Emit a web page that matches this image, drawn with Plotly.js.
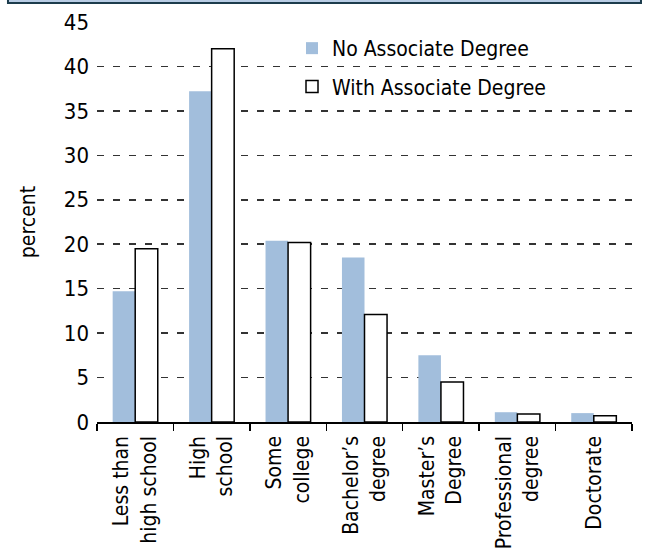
<!DOCTYPE html>
<html>
<head>
<meta charset="utf-8">
<script src="https://cdn.plot.ly/plotly-3.0.1.min.js"></script>
<style>html,body{margin:0;padding:0;background:#fff;}#chart{width:647px;height:550px;}</style>
</head>
<body>
<div id="chart"></div>
<script>
var categories = ["Less than<br>high school", "High<br>school", "Some<br>college", "Bachelor’s<br>degree", "Master’s<br>Degree", "Professional<br>degree", "Doctorate"];
var seriesNames = ["No Associate Degree", "With Associate Degree"];
var noAssociate = [14.7, 37.2, 20.4, 18.5, 7.5, 1.1, 1.0];
var withAssociate = [19.5, 42.0, 20.2, 12.1, 4.5, 0.9, 0.7];
var yTicks = [0, 5, 10, 15, 20, 25, 30, 35, 40, 45];

var FONT = "'DejaVu Sans Condensed', 'Liberation Sans', Arial, sans-serif";

var traces = [
  {type: "bar", name: seriesNames[0], x: categories, y: noAssociate,
   marker: {color: "#a2bedc", line: {width: 0}}, legendgroup: "a"},
  {type: "bar", name: seriesNames[1], x: categories, y: withAssociate,
   marker: {color: "#ffffff", line: {color: "#000000", width: 1.5}}, legendgroup: "b"}
];

var layout = {
  width: 647, height: 550,
  margin: {l: 97, r: 15, t: 22, b: 128, pad: 0},
  paper_bgcolor: "#ffffff", plot_bgcolor: "#ffffff",
  font: {family: FONT, size: 21, color: "#000000"},
  barmode: "group", bargap: 0.41, bargroupgap: 0,
  showlegend: true,
  legend: {x: 0.3645, y: 0.985, xanchor: "left", yanchor: "top",
           bgcolor: "rgba(0,0,0,0)", font: {family: FONT, size: 21},
           traceorder: "grouped", tracegroupgap: 8},
  xaxis: {type: "category", tickson: "boundaries", ticks: "outside", ticklen: 7,
          tickwidth: 1.5, tickcolor: "#000", showline: true, linecolor: "#000", linewidth: 1.5,
          tickangle: -90, showgrid: false, zeroline: false, automargin: false,
          ticklabelstandoff: 4,
          tickfont: {family: FONT, size: 21}},
  yaxis: {range: [0, 45], tickvals: yTicks, ticktext: yTicks.map(String),
          showgrid: true, gridcolor: "#333333", gridwidth: 1.5, griddash: "7px,9px",
          zeroline: false, showline: false, ticks: "", ticklabelstandoff: 7,
          automargin: false, tickfont: {family: FONT, size: 22},
          title: {text: "percent", standoff: 22, font: {family: FONT, size: 21}}},
  shapes: [
    {type: "rect", xref: "paper", yref: "paper", x0: -0.1664, x1: 1.0168, y0: 1.0475, y1: 1.09,
     fillcolor: "#b9cde5", line: {color: "#1c3c4c", width: 2}, layer: "above"}
  ]
};

Plotly.newPlot("chart", traces, layout, {displayModeBar: false, staticPlot: true});
</script>
</body>
</html>
